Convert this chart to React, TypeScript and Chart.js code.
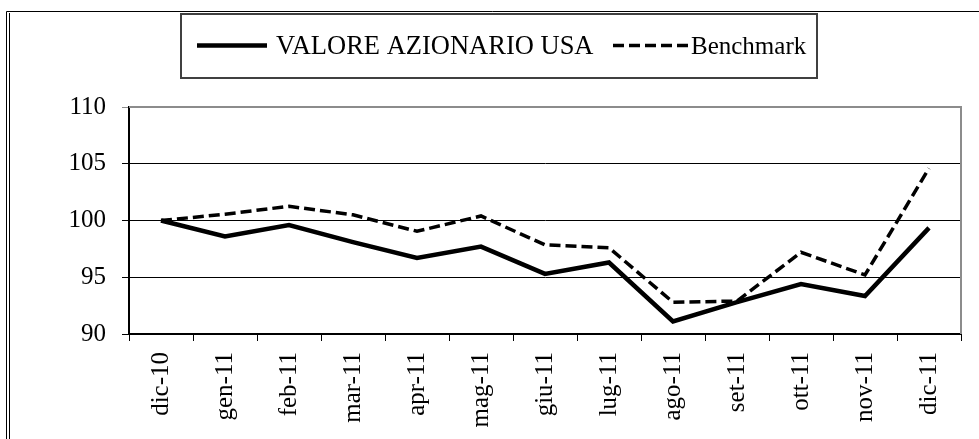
import React, { useEffect, useRef } from 'react';
import { Chart, registerables } from 'chart.js';

Chart.register(...registerables);

const categories = ['dic-10', 'gen-11', 'feb-11', 'mar-11', 'apr-11', 'mag-11', 'giu-11', 'lug-11', 'ago-11', 'set-11', 'ott-11', 'nov-11', 'dic-11'];
const valoreAzionario = [100, 98.6, 99.6, 98.1, 96.7, 97.7, 95.3, 96.3, 91.1, 92.8, 94.4, 93.35, 99.35];
const benchmark = [100, 100.55, 101.25, 100.5, 99.05, 100.4, 97.85, 97.6, 92.8, 92.9, 97.2, 95.2, 104.6];
const yTicks = [90, 95, 100, 105, 110];
const seriesLabels = ['VALORE AZIONARIO USA', 'Benchmark'];

const FONT = "'Liberation Serif', 'Times New Roman', serif";

const framePlugin = {
  id: 'frameAndLegend',
  afterDraw(chart: any) {
    const ctx = chart.ctx;
    const { left, right, top, bottom } = chart.chartArea;
    ctx.save();
    // outer frame
    ctx.strokeStyle = '#000';
    ctx.lineWidth = 1;
    ctx.beginPath();
    ctx.moveTo(6.5, 11.5);
    ctx.lineTo(chart.width, 11.5);
    ctx.moveTo(6.5, 11.5);
    ctx.lineTo(6.5, chart.height);
    ctx.moveTo(9.5, 13);
    ctx.lineTo(9.5, chart.height);
    ctx.stroke();
    // plot area top/right gray border
    ctx.strokeStyle = '#8c8c8c';
    ctx.lineWidth = 2;
    ctx.beginPath();
    ctx.moveTo(left, top);
    ctx.lineTo(right, top);
    ctx.lineTo(right, bottom);
    ctx.stroke();
    // legend box
    ctx.strokeStyle = '#404040';
    ctx.lineWidth = 2;
    ctx.strokeRect(181, 14, 636, 64);
    // legend items
    const ds = chart.data.datasets;
    ctx.fillStyle = '#000';
    ctx.textBaseline = 'alphabetic';
    ctx.textAlign = 'left';
    ctx.font = '26.5px ' + FONT;
    // item 1
    ctx.strokeStyle = ds[0].borderColor;
    ctx.lineWidth = ds[0].borderWidth;
    ctx.setLineDash([]);
    ctx.beginPath();
    ctx.moveTo(197, 45.5);
    ctx.lineTo(267, 45.5);
    ctx.stroke();
    ctx.fillText(ds[0].label, 276, 54);
    // item 2
    ctx.strokeStyle = ds[1].borderColor;
    ctx.lineWidth = ds[1].borderWidth;
    ctx.setLineDash([11, 5]);
    ctx.beginPath();
    ctx.moveTo(613, 45.5);
    ctx.lineTo(690, 45.5);
    ctx.stroke();
    ctx.setLineDash([]);
    ctx.font = '25px ' + FONT;
    ctx.fillText(ds[1].label, 691, 54);
    ctx.restore();
  },
};

export default function App() {
  const canvasRef = useRef<HTMLCanvasElement | null>(null);

  useEffect(() => {
    const canvas = canvasRef.current;
    if (!canvas) return;
    const chart = new Chart(canvas, {
      type: 'line',
      data: {
        labels: categories,
        datasets: [
          {
            label: seriesLabels[0],
            data: valoreAzionario,
            borderColor: '#000',
            backgroundColor: '#000',
            borderWidth: 4.5,
            pointRadius: 0,
            tension: 0,
            borderJoinStyle: 'miter',
          },
          {
            label: seriesLabels[1],
            data: benchmark,
            borderColor: '#000',
            backgroundColor: '#000',
            borderWidth: 3.5,
            borderDash: [11, 5],
            pointRadius: 0,
            tension: 0,
            borderJoinStyle: 'miter',
          },
        ],
      },
      options: {
        responsive: false,
        animation: false,
        devicePixelRatio: 1,
        layout: { padding: { top: 107, right: 18, left: 0, bottom: 0 } },
        plugins: {
          legend: { display: false },
          tooltip: { enabled: false },
          title: { display: false },
        },
        scales: {
          x: {
            type: 'category',
            offset: true,
            grid: {
              offset: true,
              drawOnChartArea: false,
              drawTicks: true,
              tickLength: 7,
              color: '#000',
              lineWidth: 1,
            },
            border: { display: true, color: '#000', width: 2 },
            ticks: {
              autoSkip: false,
              minRotation: 90,
              maxRotation: 90,
              padding: 11,
              color: '#000',
              font: { family: FONT, size: 25 },
            },
            afterFit: (scale: any) => {
              scale.height = 105;
            },
          },
          y: {
            min: yTicks[0],
            max: yTicks[yTicks.length - 1],
            ticks: {
              stepSize: yTicks[1] - yTicks[0],
              padding: 16,
              color: '#000',
              font: { family: FONT, size: 25 },
            },
            afterBuildTicks: (scale: any) => {
              scale.ticks = yTicks.map((v) => ({ value: v }));
            },
            grid: {
              color: (c: any) => (c.tick && c.tick.value === yTicks[yTicks.length - 1] ? '#8c8c8c' : '#000'),
              lineWidth: 1,
              tickLength: 7,
              drawTicks: true,
            },
            border: { display: true, color: '#000', width: 2 },
            afterFit: (scale: any) => {
              scale.width = 129;
            },
          },
        },
      },
      plugins: [framePlugin],
    } as any);
    return () => chart.destroy();
  }, []);

  return (
    <div style={{ position: 'fixed', left: 0, top: 0, width: 979, height: 439, background: '#fff' }}>
      <canvas ref={canvasRef} width={979} height={439} style={{ display: 'block', width: 979, height: 439 }} />
    </div>
  );
}
